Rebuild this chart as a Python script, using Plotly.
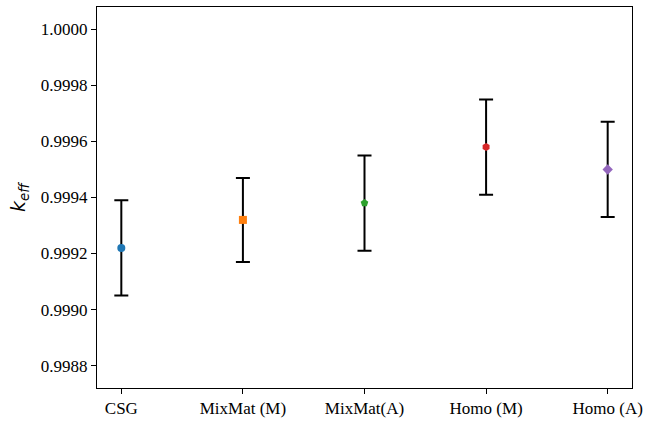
import plotly.graph_objects as go

categories = ["CSG", "MixMat (M)", "MixMat(A)", "Homo (M)", "Homo (A)"]
keff = [0.99922, 0.99932, 0.99938, 0.99958, 0.99950]
errors = [0.00017, 0.00015, 0.00017, 0.00017, 0.00017]
colors = ["#1f77b4", "#ff7f0e", "#2ca02c", "#d62728", "#9467bd"]
symbols = ["circle", "square", "pentagon", "hexagon", "diamond"]

fig = go.Figure()
for i, c in enumerate(categories):
    fig.add_trace(go.Scatter(
        x=[i], y=[keff[i]], mode="markers",
        marker=dict(color=colors[i], symbol=symbols[i], size=8),
        error_y=dict(type="data", array=[errors[i]], color="black", thickness=2, width=7),
        showlegend=False,
    ))

fig.update_layout(
    width=660, height=424,
    margin=dict(l=97, r=28, t=6, b=27),
    plot_bgcolor="white", paper_bgcolor="white",
    font=dict(family="Liberation Serif", size=17, color="black"),
)
fig.update_xaxes(
    range=[-0.2, 4.2], tickmode="array", tickvals=list(range(len(categories))), ticktext=categories,
    showgrid=False, zeroline=False, showline=True, linecolor="black", linewidth=1, mirror=True,
    ticks="outside", ticklen=5, tickcolor="black",
)
fig.update_yaxes(
    range=[0.99872, 1.00008], tickvals=[0.9988, 0.9990, 0.9992, 0.9994, 0.9996, 0.9998, 1.0000],
    tickformat=".4f",
    showgrid=False, zeroline=False, showline=True, linecolor="black", linewidth=1, mirror=True,
    ticks="outside", ticklen=5, tickcolor="black",
    title=dict(text="<i>k</i><sub><i>eff</i></sub>", font=dict(family="DejaVu Sans", size=19), standoff=10),
)
fig.write_html("out.html", config={"displayModeBar": False},
               post_script="document.body.style.margin='0';document.body.style.padding='0';")
